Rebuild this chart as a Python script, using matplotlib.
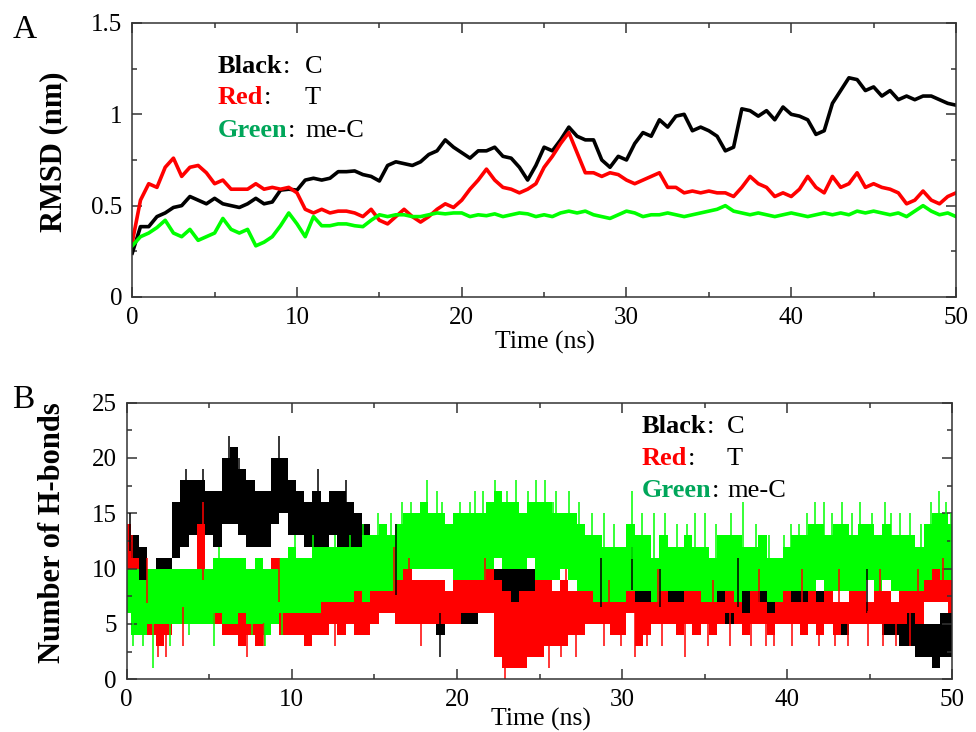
import numpy as np
import matplotlib
matplotlib.use("Agg")
import matplotlib.pyplot as plt
from matplotlib.ticker import MultipleLocator, FuncFormatter

plt.rcParams['font.family'] = ['Liberation Serif', 'DejaVu Serif']

# ---- Panel A: RMSD (nm), sampled every 0.5 ns ----
time_a = np.arange(0, 50.01, 0.5)
rmsd_c = [0.24, 0.385, 0.385, 0.44, 0.46, 0.49, 0.50, 0.55, 0.53, 0.51,
          0.54, 0.51, 0.50, 0.49, 0.51, 0.54, 0.51, 0.52, 0.585, 0.59,
          0.585, 0.64, 0.65, 0.64, 0.65, 0.686, 0.686, 0.69, 0.67, 0.66,
          0.635, 0.72, 0.74, 0.73, 0.72, 0.74, 0.78, 0.80, 0.86, 0.82,
          0.79, 0.76, 0.80, 0.80, 0.82, 0.77, 0.76, 0.71, 0.64, 0.72,
          0.82, 0.80, 0.86, 0.93, 0.88, 0.86, 0.86, 0.75, 0.71, 0.77,
          0.75, 0.84, 0.90, 0.88, 0.97, 0.93, 0.99, 1.00, 0.91, 0.93,
          0.91, 0.88, 0.80, 0.82, 1.03, 1.02, 0.99, 1.02, 0.97, 1.04,
          1.00, 0.99, 0.97, 0.89, 0.91, 1.06, 1.13, 1.20, 1.19, 1.13,
          1.15, 1.10, 1.13, 1.08, 1.10, 1.08, 1.10, 1.10, 1.08, 1.06,
          1.05]
rmsd_t = [0.30, 0.53, 0.62, 0.60, 0.71, 0.76, 0.66, 0.71, 0.72, 0.68,
          0.62, 0.64, 0.59, 0.59, 0.59, 0.62, 0.59, 0.60, 0.59, 0.60,
          0.57, 0.48, 0.46, 0.48, 0.46, 0.47, 0.47, 0.46, 0.44, 0.48,
          0.42, 0.40, 0.44, 0.48, 0.44, 0.41, 0.44, 0.48, 0.51, 0.49,
          0.53, 0.59, 0.64, 0.70, 0.64, 0.60, 0.59, 0.57, 0.59, 0.62,
          0.71, 0.77, 0.84, 0.90, 0.79, 0.68, 0.68, 0.66, 0.68, 0.67,
          0.64, 0.62, 0.64, 0.66, 0.68, 0.60, 0.60, 0.57, 0.58, 0.57,
          0.58, 0.57, 0.57, 0.55, 0.60, 0.66, 0.62, 0.60, 0.55, 0.57,
          0.55, 0.59, 0.66, 0.60, 0.57, 0.66, 0.60, 0.62, 0.68, 0.60,
          0.62, 0.60, 0.59, 0.57, 0.51, 0.53, 0.58, 0.53, 0.51, 0.55,
          0.57]
rmsd_mec = [0.28, 0.33, 0.35, 0.38, 0.42, 0.35, 0.33, 0.37, 0.31, 0.33,
            0.35, 0.43, 0.37, 0.35, 0.37, 0.28, 0.30, 0.33, 0.39, 0.46,
            0.40, 0.33, 0.44, 0.39, 0.39, 0.40, 0.40, 0.39, 0.385, 0.42,
            0.45, 0.44, 0.45, 0.45, 0.44, 0.44, 0.45, 0.46, 0.455, 0.46,
            0.46, 0.44, 0.45, 0.445, 0.455, 0.44, 0.45, 0.46, 0.455, 0.44,
            0.45, 0.44, 0.46, 0.47, 0.46, 0.47, 0.45, 0.44, 0.43, 0.45,
            0.47, 0.46, 0.44, 0.45, 0.45, 0.46, 0.45, 0.44, 0.45, 0.46,
            0.47, 0.48, 0.50, 0.47, 0.46, 0.45, 0.46, 0.45, 0.44, 0.45,
            0.46, 0.45, 0.44, 0.45, 0.46, 0.45, 0.46, 0.45, 0.47, 0.46,
            0.47, 0.46, 0.45, 0.46, 0.44, 0.47, 0.50, 0.47, 0.45, 0.46,
            0.44]

# ---- Panel B: number of H-bonds, band (low/high) every 0.5 ns ----
time_b = np.arange(0, 50.01, 0.5)
hb_c_lo = [10, 9, 8, 8, 9, 9, 11, 12, 13, 13, 13, 12, 14, 14, 13, 12, 12, 12,
           14, 15, 13, 13, 12, 12, 12, 13, 12, 12, 12, 11, 10, 9, 6, 5, 5, 6,
           6, 5, 4, 5, 5, 5, 5, 6, 6, 6, 5, 6, 6, 5, 5,
           5, 5, 5, 5, 5, 5, 5, 5, 5, 5, 6,
           5, 5, 5, 5, 5, 5, 5, 5, 5, 5, 5, 5, 5, 5, 5, 5, 5, 5, 5, 5, 5, 5,
           5, 5, 4, 4, 5, 5, 5, 5, 4, 4, 3, 3, 2, 2, 1, 2, 2]
hb_c_hi = [14, 13, 12, 10, 11, 11, 16, 18, 18, 18, 17, 17, 20, 21, 19, 18, 17,
           17, 20, 20, 18, 17, 16, 17, 16, 17, 17, 16, 15, 14, 13, 13, 11, 9,
           9, 9, 9, 8, 8, 8, 8, 8, 8, 8, 9, 10, 10, 10, 10, 10, 10,
           8, 8, 8, 8, 8, 8, 8, 8, 8, 8, 11,
           8, 8, 8, 8, 8, 8, 8, 8, 8, 8, 8, 8, 8, 8, 8, 8, 8, 8, 8, 8, 8, 8,
           8, 8, 7, 7, 7, 7, 7, 7, 7, 7, 6, 6, 6, 5, 5, 6, 6]
hb_t_lo = [10, 8, 6, 4, 3, 4, 5, 5, 5, 5, 5, 5, 4, 4, 3, 4, 3, 4, 5, 4, 4, 4,
           3, 4, 4, 5, 4, 5, 4, 4, 5, 6, 6, 5, 5, 5, 5, 5, 5, 5, 5, 6, 6, 6,
           6, 2, 1, 1, 1, 2, 2, 3, 3, 3, 4, 4, 5, 5, 5, 4, 4, 6, 3, 4, 5, 5,
           5, 4, 5, 4, 5, 4, 5, 6, 5, 4, 5, 5, 4, 5, 5, 5, 4, 5, 4, 5, 4, 5,
           5, 5, 5, 5, 5, 5, 5, 6, 5, 7, 7, 7, 6]
hb_t_hi = [14, 11, 9, 8, 6, 6, 8, 8, 9, 14, 9, 8, 7, 7, 6, 6, 6, 7, 11, 7, 7,
           7, 6, 7, 7, 8, 7, 8, 8, 8, 8, 8, 9, 10, 10, 9, 9, 9, 9, 8, 9, 10,
           10, 10, 10, 9, 8, 7, 8, 8, 9, 9, 8, 9, 8, 8, 8, 7, 7, 7, 7, 11, 7,
           7, 7, 8, 7, 7, 8, 8, 7, 7, 7, 8, 7, 6, 8, 7, 6, 7, 8, 7, 7, 8, 7,
           8, 7, 7, 8, 9, 7, 8, 8, 7, 8, 8, 8, 9, 10, 9, 9]
hb_m_lo = [6, 4, 4, 5, 5, 5, 5, 5, 5, 5, 5, 6, 5, 5, 6, 5, 5, 4, 5, 6, 6, 6,
           6, 6, 7, 7, 7, 7, 8, 7, 8, 8, 8, 9, 10, 10, 10, 10, 10, 10, 9, 9,
           9, 9, 10, 11, 10, 10, 10, 11, 9, 9, 9, 10, 9, 8, 8, 7, 7, 7, 7, 8,
           8, 8, 7, 8, 8, 8, 8, 8, 7, 7, 8, 8, 7, 8, 8, 8, 7, 7, 8, 8, 8, 8,
           9, 8, 8, 8, 8, 8, 9, 8, 9, 8, 8, 8, 8, 9, 10, 9, 9]
hb_m_hi = [10, 10, 9, 10, 10, 10, 10, 10, 10, 10, 10, 11, 11, 11, 11, 10, 11,
           10, 10, 11, 12, 11, 11, 12, 12, 12, 12, 12, 12, 13, 13, 14, 13, 14,
           15, 15, 16, 15, 15, 14, 15, 15, 15, 15, 16, 17, 16, 16, 15, 16, 16,
           16, 15, 15, 15, 14, 13, 13, 12, 12, 12, 14, 13, 13, 11, 13, 12, 12,
           13, 12, 12, 11, 13, 13, 13, 12, 12, 13, 11, 11, 12, 13, 13, 14, 14,
           13, 14, 14, 13, 14, 14, 13, 14, 13, 13, 13, 12, 14, 15, 15, 14]

# thin single-frame excursions beyond the bands
spike_c_t = [0.2, 3.6, 4.6, 6.2, 6.8, 9.2, 9.7, 11.6, 13.3, 16.3, 19.0, 30.6,
             49.0, 28.7, 32.3, 37.0, 44.8]
spike_c_y = [15, 19, 19, 22, 20, 22, 20, 19, 18, 14, 2, 12, 1, 11, 10, 11, 10]
spike_t_t = [0.3, 1.2, 4.6, 9.2, 16.2, 17.1, 21.7, 1.9, 2.4, 3.4, 7.3, 8.3,
             10.8, 12.6, 17.8, 22.9, 25.6, 27.2, 30.8, 31.5, 33.8, 36.5, 39.2,
             40.3, 41.9, 44.9, 47.4, 26.3, 28.9, 29.9, 32.4, 35.2, 37.8, 38.7,
             42.9, 43.7, 45.8, 46.6, 26.6, 29.2, 32.2, 35.5, 38.3, 40.9, 43.1,
             45.6, 47.9, 49.4]
spike_t_y = [13, 11, 16, 11, 12, 11, 11, 2, 2, 3, 2, 3, 3, 3, 3, 0, 1, 2, 2,
             3, 2, 3, 3, 3, 3, 3, 3, 2, 3, 3, 3, 3, 3, 3, 3, 3, 3, 3, 10, 9,
             10, 9, 10, 10, 10, 10, 10, 11]
spike_m_t = [5.6, 10.2, 13.5, 15.2, 17.2, 18.2, 19.1, 20.8, 21.6, 22.3, 23.6,
             24.3, 25.3, 26.0, 27.4, 28.9, 30.6, 31.9, 32.6, 33.9, 35.0, 36.6,
             37.3, 39.8, 40.7, 41.7, 42.7, 43.9, 45.1, 45.9, 46.8, 48.1, 49.2,
             49.6, 0.4, 1.0, 1.6, 2.6, 3.8, 5.3, 7.6, 8.4, 9.4, 11.3, 12.6,
             14.3, 16.0, 16.7, 18.8, 20.2, 21.1, 23.0, 24.8, 25.8, 26.8, 28.2,
             29.5, 31.2, 33.3, 34.4, 35.7, 38.1, 38.9, 40.2, 41.2, 42.2, 43.3,
             44.4, 46.3, 47.4, 48.7, 49.9]
spike_m_y = [12, 13, 13, 15, 16, 18, 16, 16, 17, 18, 18, 17, 18, 17, 16, 15,
             17, 15, 15, 14, 15, 15, 16, 13, 14, 16, 15, 15, 15, 16, 15, 14,
             17, 16, 3, 3, 1, 3, 4, 3, 4, 3, 4, 13, 13, 14, 15, 16, 17, 16, 17,
             17, 18, 16, 17, 15, 14, 15, 14, 15, 14, 14, 13, 14, 15, 16, 16,
             16, 15, 15, 16, 15]

BLACK, RED, GREEN = "#000000", "#ff0000", "#00ff00"
GREEN_TXT = "#00a65a"
FS_TICK, FS_LAB, FS_LEG = 18, 22, 19


def style_axes(ax, xminor, ymajor, yminor):
    ax.xaxis.set_major_locator(MultipleLocator(10))
    ax.xaxis.set_minor_locator(MultipleLocator(xminor))
    ax.yaxis.set_major_locator(MultipleLocator(ymajor))
    ax.yaxis.set_minor_locator(MultipleLocator(yminor))
    ax.yaxis.set_major_formatter(FuncFormatter(lambda v, p: f"{v:g}"))
    ax.tick_params(which="both", direction="in", top=True, right=True,
                   labelsize=FS_TICK, pad=7, color="#333333")
    ax.tick_params(which="major", length=7, width=1.1)
    ax.tick_params(which="minor", length=3.5, width=1.1)
    for s in ax.spines.values():
        s.set_linewidth(1.1)
        s.set_color("#333333")


def legend_rows(ax, x_word, x_rest, ys):
    rows = [("Black", BLACK, "C"), ("Red", RED, "T"), ("Green", GREEN_TXT, "me-C")]
    for (word, col, rest), y in zip(rows, ys):
        w = ax.text(x_word, y, word, transform=ax.transAxes, color=col,
                    fontweight="bold", fontsize=FS_LEG, va="baseline")
        ax.annotate(":", xy=(1, 0), xycoords=w, xytext=(0.3, 0),
                    textcoords="offset points", va="bottom", fontsize=FS_LEG)
        ax.text(x_rest, y, rest, transform=ax.transAxes, fontsize=FS_LEG,
                va="baseline")


fig = plt.figure(figsize=(9.76, 7.32), dpi=100)

# ---- A ----
ax1 = fig.add_axes([0.1355, 0.5943, 0.844, 0.3743])
ax1.plot(time_a, rmsd_c, color=BLACK, lw=2.6)
ax1.plot(time_a, rmsd_t, color=RED, lw=2.6)
ax1.plot(time_a, rmsd_mec, color=GREEN, lw=2.6)
ax1.set_xlim(0, 50)
ax1.set_ylim(0, 1.5)
style_axes(ax1, 5, 0.5, 0.25)
ax1.set_ylabel("RMSD (nm)", fontsize=FS_LAB, fontweight="bold")
ax1.yaxis.set_label_coords(-0.078, 0.53)
ax1.set_xlabel("Time (ns)", fontsize=18.5)
ax1.xaxis.set_label_coords(0.501, -0.125)
legend_rows(ax1, 0.104, 0.2097, [0.8175, 0.7044, 0.584])

# ---- B ----
ax2 = fig.add_axes([0.1298, 0.0720, 0.8461, 0.3779])
series = [(hb_c_lo, hb_c_hi, spike_c_t, spike_c_y, BLACK),
          (hb_t_lo, hb_t_hi, spike_t_t, spike_t_y, RED),
          (hb_m_lo, hb_m_hi, spike_m_t, spike_m_y, GREEN)]
for lo, hi, st, sy, col in series:
    lo = np.asarray(lo, float)
    hi = np.asarray(hi, float)
    ax2.fill_between(time_b, lo, hi, step="mid", color=col, lw=0)
    base = np.interp(st, time_b, (lo + hi) / 2)
    ax2.vlines(st, base, sy, color=col, lw=1.1)
ax2.set_xlim(0, 50)
ax2.set_ylim(0, 25)
style_axes(ax2, 5, 5, 2.5)
ax2.set_ylabel("Number of H-bonds", fontsize=FS_LAB, fontweight="bold")
ax2.yaxis.set_label_coords(-0.0717, 0.529)
ax2.set_xlabel("Time (ns)", fontsize=18.5)
ax2.xaxis.set_label_coords(0.502, -0.102)
legend_rows(ax2, 0.6236, 0.727, [0.8905, 0.7748, 0.659])

fig.text(0.0133, 0.948, "A", fontsize=24, va="baseline")
fig.text(0.0123, 0.4426, "B", fontsize=24, va="baseline")

fig.savefig("out.png", dpi=100)
